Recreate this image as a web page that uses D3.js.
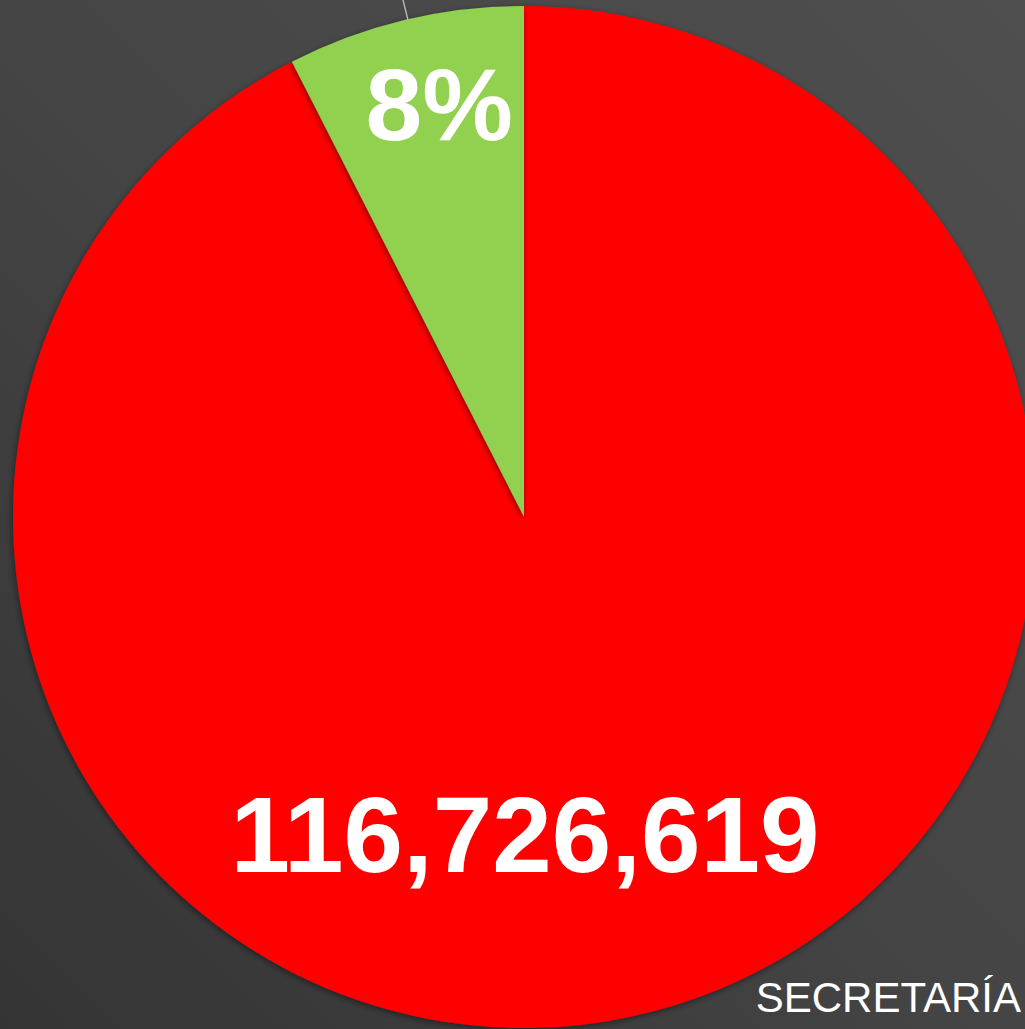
<!DOCTYPE html>
<html><head><meta charset="utf-8">
<script src="https://cdn.jsdelivr.net/npm/d3@7"></script>
<style>html,body{margin:0;padding:0;background:#444;}svg{display:block;}</style>
</head><body>
<script>
const categories = ["SECRETARÍA", "OTROS"];
const values = [116726619, 9470000];
const colors = ["#FF0000", "#92D050"];

const W = 1025, H = 1029;
const cx = 524, cy = 517, R = 511;

const svg = d3.select("body").append("svg").attr("width", W).attr("height", H);
const defs = svg.append("defs");
const bg = defs.append("linearGradient").attr("id","bg").attr("x1","1").attr("y1","0").attr("x2","0").attr("y2","1");
bg.append("stop").attr("offset","0").attr("stop-color","#4f4f4f");
bg.append("stop").attr("offset","0.5").attr("stop-color","#454545");
bg.append("stop").attr("offset","1").attr("stop-color","#343434");
const f = defs.append("filter").attr("id","sh").attr("x","-10%").attr("y","-10%").attr("width","120%").attr("height","120%");
f.append("feDropShadow").attr("dx",-1).attr("dy",2).attr("stdDeviation",3).attr("flood-color","#000").attr("flood-opacity",0.45);

svg.append("rect").attr("width",W).attr("height",H).attr("fill","url(#bg)");

const total = d3.sum(values);
const pie = d3.pie().sort(null).value(d => d)(values);
const arc = d3.arc().innerRadius(0).outerRadius(R);
const g = svg.append("g").attr("transform", `translate(${cx},${cy})`);

g.selectAll("path").data(pie).join("path")
  .attr("d", arc).attr("fill", (d,i) => colors[i]).attr("filter","url(#sh)");

const gMid = (pie[1].startAngle + pie[1].endAngle)/2;
svg.append("line").attr("x1",403).attr("y1",0).attr("x2",408).attr("y2",20)
  .attr("stroke","#bdbdbd").attr("stroke-width",1.3);

// green percent label
const lr = 0.82 * R;
g.append("text")
  .attr("x", Math.sin(gMid) * lr + 13)
  .attr("y", -Math.cos(gMid) * lr + 30)
  .attr("text-anchor","middle")
  .attr("font-family","Liberation Sans, Arial, sans-serif")
  .attr("font-weight","bold").attr("font-size",102).attr("fill","#fff")
  .text(d3.format(".0%")(values[1]/total));

// red value label
g.append("text")
  .attr("x", 1).attr("y", 0.62 * R + 38)
  .attr("text-anchor","middle")
  .attr("font-family","Liberation Sans, Arial, sans-serif")
  .attr("font-weight","bold").attr("font-size",107).attr("fill","#fff")
  .text(d3.format(",")(values[0]));

svg.append("text").attr("x", 1021).attr("y", 1012).attr("text-anchor","end")
  .attr("font-family","Liberation Sans, Arial, sans-serif")
  .attr("font-size",42).attr("fill","#fff")
  .text(categories[0]);
</script>
</body></html>
